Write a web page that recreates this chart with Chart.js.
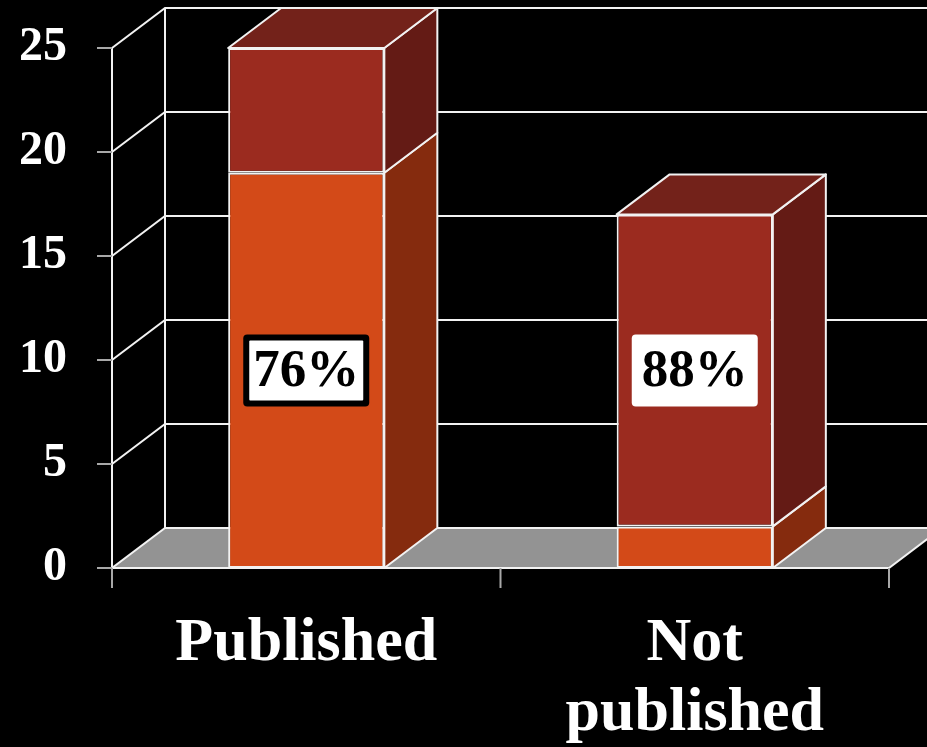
<!DOCTYPE html>
<html>
<head>
<meta charset="utf-8">
<script src="https://cdn.jsdelivr.net/npm/chart.js@4.4.1/dist/chart.umd.min.js"></script>
<style>
  html, body { margin: 0; padding: 0; background: #000; overflow: hidden; }
  canvas { display: block; background: #000; }
</style>
</head>
<body>
<canvas id="chart" width="927" height="747"></canvas>
<script>
// ---- data ----
const categories = ['Published', ['Not', 'published']];
const lowerSegment = [19, 2];     // orange part of each column
const upperSegment = [6, 15];     // red part of each column
const yTickValues = [0, 5, 10, 15, 20, 25];
// which segment each percentage label describes (0 = lower, 1 = upper)
const labelSegment = [0, 1];

// ---- styles ----
const DEPTH = { dx: 53, dy: -40 };
const LINE = '#f2f2f2';
const TICK = '#a8a8a8';
const FLOOR = '#939393';
const FRONT = ['#d34a18', '#9b2b1f'];
const SIDE = ['#852b0e', '#641b15'];
const TOP = '#73221a';
const LABEL_BORDER = [6, 0];
const SERIF = '"Liberation Serif", "Times New Roman", serif';

function poly(ctx, pts, fill) {
  ctx.beginPath();
  ctx.moveTo(pts[0][0], pts[0][1]);
  for (let i = 1; i < pts.length; i++) ctx.lineTo(pts[i][0], pts[i][1]);
  ctx.closePath();
  if (fill) { ctx.fillStyle = fill; ctx.fill(); }
  ctx.stroke();
}

function line(ctx, pts) {
  ctx.beginPath();
  ctx.moveTo(pts[0][0], pts[0][1]);
  for (let i = 1; i < pts.length; i++) ctx.lineTo(pts[i][0], pts[i][1]);
  ctx.stroke();
}

// Draws the walls, floor, column depth faces and percentage boxes.
const boxes3d = {
  id: 'boxes3d',
  beforeDatasetsDraw(chart) {
    const { ctx, chartArea: a, scales: { x, y } } = chart;
    const { dx, dy } = DEPTH;
    const L = a.left, R = a.right;
    const B = y.getPixelForValue(0);
    const T = y.getPixelForValue(y.max);
    ctx.save();
    ctx.lineWidth = 2;
    ctx.strokeStyle = LINE;
    ctx.lineJoin = 'miter';

    // floor
    poly(ctx, [[L, B], [R, B], [R + dx, B + dy], [L + dx, B + dy]], FLOOR);

    // back wall edge and gridlines along the side + back walls
    line(ctx, [[L + dx, T + dy], [L + dx, B + dy]]);
    y.ticks.forEach(t => {
      if (t.value === 0) return;
      const py = y.getPixelForValue(t.value);
      line(ctx, [[L, py], [L + dx, py + dy], [chart.width + 5, py + dy]]);
    });

    // front value axis
    line(ctx, [[L, T], [L, B + 20]]);

    // tick marks
    ctx.strokeStyle = TICK;
    y.ticks.forEach(t => {
      const py = y.getPixelForValue(t.value);
      line(ctx, [[L - 15, py], [L, py]]);
    });
    for (let i = 0; i <= categories.length; i++) {
      const px = x.getPixelForValue(i - 0.5);
      line(ctx, [[px, B], [px, B + 20]]);
    }
    ctx.restore();
  },
  afterDatasetsDraw(chart) {
    const { ctx } = chart;
    const { dx, dy } = DEPTH;
    const metas = chart.data.datasets.map((d, i) => chart.getDatasetMeta(i));
    ctx.save();
    ctx.lineWidth = 2;
    ctx.strokeStyle = LINE;
    ctx.lineJoin = 'round';

    metas.forEach((meta, di) => {
      meta.data.forEach(bar => {
        const p = bar.getProps(['x', 'y', 'base', 'width'], true);
        const l = p.x - p.width / 2, r = p.x + p.width / 2;
        const t = Math.min(p.y, p.base), b = Math.max(p.y, p.base);
        poly(ctx, [[r, t], [r + dx, t + dy], [r + dx, b + dy], [r, b]], SIDE[di]);
        if (di === metas.length - 1) {
          poly(ctx, [[l, t], [l + dx, t + dy], [r + dx, t + dy], [r, t]], TOP);
        }
      });
    });

    // percentage boxes
    categories.forEach((c, j) => {
      const di = labelSegment[j];
      const bar = metas[di].data[j];
      const seg = chart.data.datasets[di].data[j];
      const total = lowerSegment[j] + upperSegment[j];
      const txt = Math.round(seg / total * 100) + '%';
      const cx = bar.x;
      const cy = (bar.y + bar.base) / 2;
      const w = 126, h = 72;
      const bw = LABEL_BORDER[j];
      if (bw > 0) {
        ctx.fillStyle = '#000';
        ctx.beginPath();
        ctx.roundRect(cx - w / 2, cy - h / 2, w, h, 4);
        ctx.fill();
      }
      ctx.fillStyle = '#fff';
      ctx.beginPath();
      ctx.roundRect(cx - w / 2 + bw, cy - h / 2 + bw, w - 2 * bw, h - 2 * bw, bw > 0 ? 1 : 4);
      ctx.fill();
      ctx.fillStyle = '#000';
      ctx.font = 'bold 53px ' + SERIF;
      ctx.textAlign = 'center';
      ctx.textBaseline = 'middle';
      ctx.fillText(txt, cx, cy + 2);
    });
    ctx.restore();
  }
};

new Chart(document.getElementById('chart'), {
  type: 'bar',
  data: {
    labels: categories,
    datasets: [
      { data: lowerSegment, backgroundColor: FRONT[0] },
      { data: upperSegment, backgroundColor: FRONT[1] }
    ]
  },
  options: {
    responsive: false,
    animation: false,
    devicePixelRatio: 1,
    layout: { padding: { top: 48, right: 38, left: 0, bottom: 0 } },
    datasets: {
      bar: {
        barPercentage: 0.402,
        categoryPercentage: 1,
        borderColor: LINE,
        borderWidth: 2,
        borderSkipped: false
      }
    },
    plugins: {
      legend: { display: false },
      tooltip: { enabled: false }
    },
    scales: {
      x: {
        stacked: true,
        grid: { display: false, drawTicks: false, tickLength: 0 },
        border: { display: false },
        ticks: {
          color: '#fff',
          padding: 41,
          maxRotation: 0,
          autoSkip: false,
          font: { family: SERIF, size: 62, weight: 'bold', lineHeight: 1.13 }
        },
        afterFit(scale) { scale.height = 179; scale.paddingLeft = 0; scale.paddingRight = 0; }
      },
      y: {
        stacked: true,
        min: 0,
        max: 25,
        afterBuildTicks(scale) { scale.ticks = yTickValues.map(v => ({ value: v })); },
        grid: { display: false, drawTicks: false, tickLength: 0 },
        border: { display: false },
        ticks: {
          color: '#fff',
          padding: 45,
          font: { family: SERIF, size: 48, weight: 'bold' }
        },
        afterFit(scale) { scale.width = 112; scale.paddingTop = 0; scale.paddingBottom = 0; }
      }
    }
  },
  plugins: [boxes3d]
});
</script>
</body>
</html>
